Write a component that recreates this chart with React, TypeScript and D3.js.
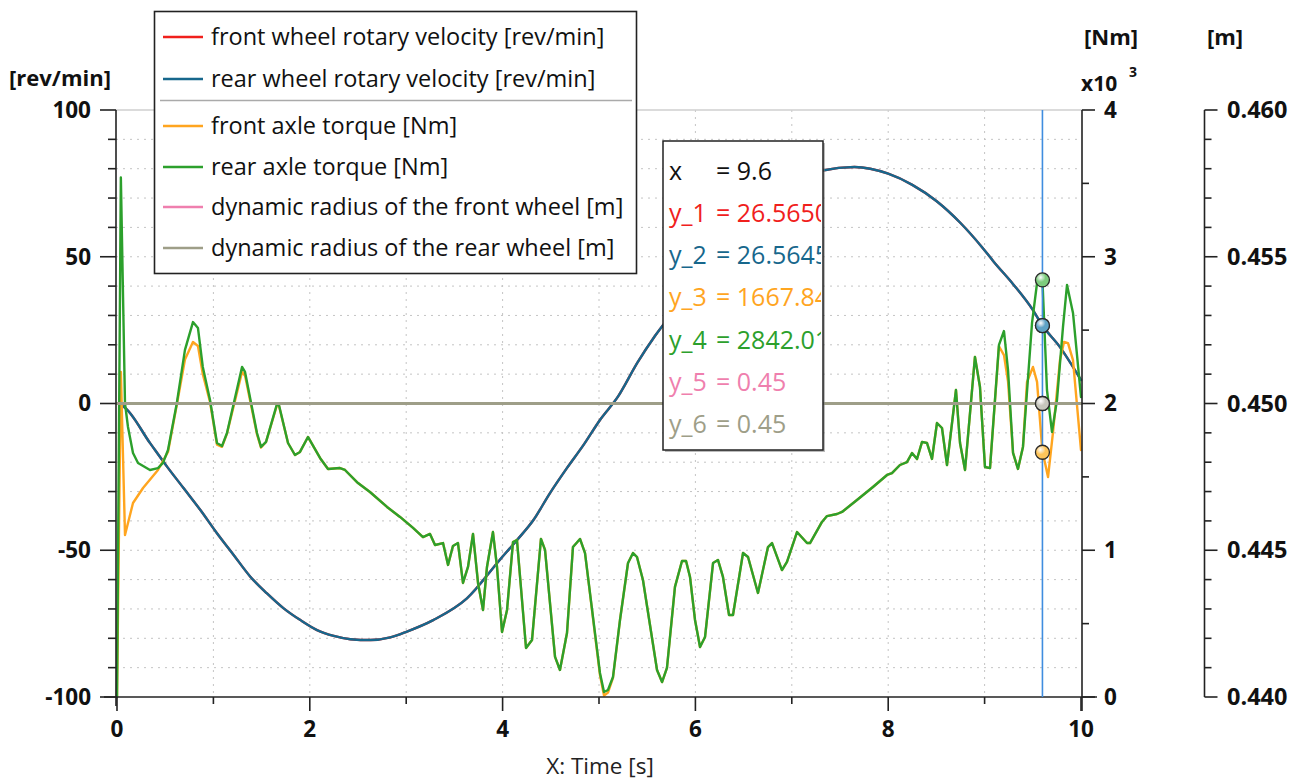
import React from 'react';
import * as d3 from 'd3';

const FONT = "'Open Sans', 'Noto Sans', sans-serif";

// ---------- data ----------
const xTickValues = [0, 1, 2, 3, 4, 5, 6, 7, 8, 9, 10];
const xLabelValues = [0, 2, 4, 6, 8, 10];
const leftMajor = [100, 50, 0, -50, -100];
const leftMinor = [90, 80, 70, 60, 40, 30, 20, 10, -10, -20, -30, -40, -60, -70, -80, -90];
const nmMajor = [0, 1000, 2000, 3000, 4000];
const nmMinor = [500, 1500, 2500, 3500];
const mMajor = [0.44, 0.445, 0.45, 0.455, 0.46];
const mMinor = [0.441, 0.442, 0.443, 0.444, 0.446, 0.447, 0.448, 0.449, 0.451, 0.452, 0.453, 0.454, 0.456, 0.457, 0.458, 0.459];

const frontVelocity: [number, number][] = [
  [0, 0], [0.07, -1.1], [0.345, -13.6], [0.519, -21.5], [0.692, -28.9], [0.865, -36.3], [1.037, -44.2],
  [1.21, -51.6], [1.383, -59], [1.556, -64.7], [1.729, -69.8], [1.902, -73.8], [2.075, -77.2], [2.248, -79.2],
  [2.42, -80.3], [2.63, -80.6], [2.835, -79.7], [3.008, -77.7], [3.28, -73.8], [3.63, -66.4], [3.97, -53.3],
  [4.15, -46.5], [4.32, -39.7], [4.49, -30.6], [4.665, -22.1], [4.84, -14.1], [5.01, -5.6], [5.2, 2.5],
  [5.4, 14], [5.58, 23], [5.8, 32.5], [6.0, 41.5], [6.25, 52.5], [6.5, 62], [6.75, 70], [7.0, 75.5],
  [7.32, 79.4], [7.65, 80.6], [8.0, 78.3], [8.25, 74.5], [8.5, 69], [8.75, 61.5], [8.98, 53], [9.09, 48.5],
  [9.3, 40.5], [9.5, 31.9], [9.6, 26.565], [9.78, 19.3], [10, 8]
];

const rearVelocity: [number, number][] = [
  [0, 0], [0.07, -1.1], [0.345, -13.6], [0.519, -21.5], [0.692, -28.9], [0.865, -36.3], [1.037, -44.2],
  [1.21, -51.6], [1.383, -59], [1.556, -64.7], [1.729, -69.8], [1.902, -73.8], [2.075, -77.2], [2.248, -79.2],
  [2.42, -80.3], [2.63, -80.6], [2.835, -79.7], [3.008, -77.7], [3.28, -73.8], [3.63, -66.4], [3.97, -53.3],
  [4.15, -46.5], [4.32, -39.7], [4.49, -30.6], [4.665, -22.1], [4.84, -14.1], [5.01, -5.6], [5.2, 2.5],
  [5.4, 14], [5.58, 23], [5.8, 32.5], [6.0, 41.5], [6.25, 52.5], [6.5, 62], [6.75, 70], [7.0, 75.5],
  [7.32, 79.4], [7.65, 80.6], [8.0, 78.3], [8.25, 74.5], [8.5, 69], [8.75, 61.5], [8.98, 53], [9.09, 48.5],
  [9.3, 40.5], [9.5, 31.9], [9.6, 26.5645], [9.78, 19.3], [10, 8]
];

const frontTorque: [number, number][] = [
  [0, 0], [0.04, 2215], [0.083, 1104], [0.166, 1322], [0.27, 1424], [0.425, 1547], [0.529, 1670], [0.62, 1990],
  [0.705, 2300], [0.788, 2419], [0.84, 2392], [0.89, 2200], [0.965, 2010], [1.037, 1720], [1.089, 1705],
  [1.141, 1795], [1.297, 2215], [1.328, 2190], [1.452, 1790], [1.494, 1700], [1.546, 1738], [1.66, 1990],
  [1.68, 1985], [1.774, 1731], [1.846, 1649], [1.898, 1670], [1.981, 1772], [2.106, 1629], [2.189, 1554],
  [2.313, 1560], [2.365, 1547], [2.5, 1458], [2.624, 1397], [2.801, 1295], [2.936, 1227], [3.071, 1152],
  [3.174, 1090], [3.247, 1111], [3.299, 1036], [3.382, 1049], [3.434, 900], [3.485, 1029], [3.537, 1049],
  [3.589, 777], [3.641, 886], [3.693, 1111], [3.745, 777], [3.797, 593], [3.838, 886], [3.9, 1124], [3.942, 886],
  [3.994, 443], [4.046, 593], [4.108, 1056], [4.149, 1070], [4.243, 334], [4.305, 388], [4.398, 1077],
  [4.44, 1002], [4.544, 273], [4.595, 184], [4.668, 436], [4.73, 1022], [4.803, 1077], [4.855, 981],
  [5.01, 150], [5.052, 10], [5.093, 30], [5.145, 130], [5.218, 525], [5.301, 913], [5.353, 981], [5.394, 954],
  [5.456, 797], [5.602, 184], [5.654, 102], [5.705, 198], [5.788, 750], [5.861, 927], [5.903, 927], [5.944, 818],
  [5.996, 525], [6.048, 341], [6.1, 409], [6.183, 913], [6.234, 934], [6.286, 818], [6.349, 559], [6.39, 559],
  [6.494, 981], [6.546, 954], [6.649, 709], [6.753, 1022], [6.795, 1049], [6.898, 865], [6.95, 920],
  [7.054, 1124], [7.158, 1049], [7.189, 1049], [7.313, 1193], [7.365, 1233], [7.469, 1247], [7.521, 1261],
  [7.676, 1342], [7.842, 1431], [7.988, 1513], [8.039, 1526], [8.122, 1581], [8.195, 1601], [8.247, 1663],
  [8.299, 1622], [8.351, 1738], [8.402, 1731], [8.454, 1622], [8.506, 1867], [8.558, 1833], [8.61, 1581],
  [8.703, 2092], [8.745, 1731], [8.797, 1547], [8.9, 2317], [8.952, 2112], [9.004, 1567], [9.056, 1560],
  [9.149, 2390], [9.201, 2330], [9.243, 2150], [9.295, 1663], [9.346, 1554], [9.398, 1704], [9.44, 2147],
  [9.502, 2249], [9.544, 2147], [9.6, 1667.84], [9.627, 1595], [9.658, 1499], [9.71, 1806], [9.782, 2296],
  [9.824, 2419], [9.865, 2412], [9.917, 2296], [10, 1683]
];

const rearTorque: [number, number][] = [
  [0, 0], [0.04, 3540], [0.083, 2000], [0.114, 1840], [0.166, 1663], [0.218, 1595], [0.342, 1547], [0.425, 1560],
  [0.477, 1595], [0.529, 1683], [0.62, 2000], [0.705, 2365], [0.788, 2555], [0.84, 2514], [0.89, 2249],
  [0.965, 2024], [1.037, 1731], [1.089, 1710], [1.141, 1799], [1.297, 2249], [1.328, 2215], [1.452, 1799],
  [1.494, 1704], [1.546, 1738], [1.66, 1997], [1.68, 1990], [1.774, 1731], [1.846, 1649], [1.898, 1670],
  [1.981, 1772], [2.106, 1629], [2.189, 1554], [2.313, 1560], [2.365, 1547], [2.5, 1458], [2.624, 1397],
  [2.801, 1295], [2.936, 1227], [3.071, 1152], [3.174, 1090], [3.247, 1111], [3.299, 1036], [3.382, 1049],
  [3.434, 900], [3.485, 1029], [3.537, 1049], [3.589, 777], [3.641, 886], [3.693, 1111], [3.745, 777],
  [3.797, 593], [3.838, 886], [3.9, 1124], [3.942, 886], [3.994, 443], [4.046, 593], [4.108, 1056],
  [4.149, 1070], [4.243, 334], [4.305, 388], [4.398, 1077], [4.44, 1002], [4.544, 273], [4.595, 184],
  [4.668, 436], [4.73, 1022], [4.803, 1077], [4.855, 981], [5.01, 164], [5.052, 34], [5.093, 48], [5.145, 136],
  [5.218, 525], [5.301, 913], [5.353, 981], [5.394, 954], [5.456, 797], [5.602, 184], [5.654, 102], [5.705, 198],
  [5.788, 750], [5.861, 927], [5.903, 927], [5.944, 818], [5.996, 525], [6.048, 341], [6.1, 409], [6.183, 913],
  [6.234, 934], [6.286, 818], [6.349, 559], [6.39, 559], [6.494, 981], [6.546, 954], [6.649, 709], [6.753, 1022],
  [6.795, 1049], [6.898, 865], [6.95, 920], [7.054, 1124], [7.158, 1049], [7.189, 1049], [7.313, 1193],
  [7.365, 1233], [7.469, 1247], [7.521, 1261], [7.676, 1342], [7.842, 1431], [7.988, 1513], [8.039, 1526],
  [8.122, 1581], [8.195, 1601], [8.247, 1663], [8.299, 1622], [8.351, 1738], [8.402, 1731], [8.454, 1622],
  [8.506, 1867], [8.558, 1833], [8.61, 1581], [8.703, 2092], [8.745, 1731], [8.797, 1547], [8.9, 2317],
  [8.952, 2112], [9.004, 1567], [9.056, 1560], [9.149, 2399], [9.201, 2494], [9.243, 2228], [9.295, 1663],
  [9.346, 1554], [9.398, 1704], [9.492, 2549], [9.544, 2821], [9.6, 2842.01], [9.647, 2092], [9.699, 1806],
  [9.751, 2024], [9.813, 2521], [9.855, 2808], [9.917, 2617], [10, 2044]
];

const frontRadius: [number, number][] = [[0, 0.45], [10, 0.45]];
const rearRadius: [number, number][] = [[0, 0.45], [10, 0.45]];

const cursorX = 9.6;
const seriesNames = [
  'front wheel rotary velocity [rev/min]',
  'rear wheel rotary velocity [rev/min]',
  'front axle torque [Nm]',
  'rear axle torque [Nm]',
  'dynamic radius of the front wheel [m]',
  'dynamic radius of the rear wheel [m]'
];
const seriesColors = ['#f0201c', '#17678c', '#ffa51f', '#2ca02c', '#ef7fae', '#9e9e88'];
const markerColors = ['#f47a70', '#5fa3c6', '#ffc55a', '#7dcc7d', '#f5aacb', '#c6c6bc'];
const tooltipLabels = ['y_1', 'y_2', 'y_3', 'y_4', 'y_5', 'y_6'];
const tooltipValues = ['26.56501', '26.56452', '1667.8413', '2842.0127', '0.45', '0.45'];

// ---------- component ----------
export default function App() {
  const W = 1307, H = 783;
  const x = d3.scaleLinear().domain([0, 10]).range([117, 1081]);
  const yL = d3.scaleLinear().domain([-100, 100]).range([697, 110]);
  const yN = d3.scaleLinear().domain([0, 4000]).range([697, 110]);
  const yM = d3.scaleLinear().domain([0.44, 0.46]).range([697, 110]);

  const series = [
    { data: frontVelocity, y: yL, w: 2.4, smooth: true },
    { data: rearVelocity, y: yL, w: 2.4, smooth: true },
    { data: frontTorque, y: yN, w: 2.4, smooth: false },
    { data: rearTorque, y: yN, w: 2.4, smooth: false },
    { data: frontRadius, y: yM, w: 3, smooth: false },
    { data: rearRadius, y: yM, w: 3, smooth: false }
  ];

  const lineOf = (s: any) =>
    d3.line<[number, number]>()
      .x(d => x(d[0]))
      .y(d => s.y(d[1]))
      .curve(s.smooth ? d3.curveMonotoneX : d3.curveLinear)(s.data) || '';

  const valueAt = (data: [number, number][], t: number) => {
    const f = data.find(d => Math.abs(d[0] - t) < 1e-9);
    return f ? f[1] : data[0][1];
  };

  const axL = 116, axN = 1082, axM = 1204.5;
  const yTop = 110, yBot = 697;
  const gridColor = '#c4c4c4';

  const markerOrder = [0, 1, 2, 3, 4, 5];
  const legendRows = [37, 79, 126, 167, 207, 248];

  return (
    <svg width={W} height={H} style={{ position: 'absolute', left: 0, top: 0, background: '#fff' }}
      fontFamily={FONT}>
      <defs>
        <clipPath id="plotClip">
          <rect x={113} y={106} width={972} height={594} />
        </clipPath>
        <clipPath id="tipClip">
          <rect x={664} y={142} width={157} height={307} />
        </clipPath>
        {markerColors.map((c, i) => (
          <radialGradient key={i} id={`mg${i}`} cx="38%" cy="32%" r="75%">
            <stop offset="0%" stopColor="#ffffff" stopOpacity={0.9} />
            <stop offset="45%" stopColor={c} />
            <stop offset="100%" stopColor={c} />
          </radialGradient>
        ))}
      </defs>

      {/* grid */}
      {xTickValues.filter(v => v > 0 && v < 10).map(v => (
        <line key={'gx' + v} x1={x(v)} x2={x(v)} y1={yTop} y2={yBot} stroke={gridColor}
          strokeWidth={1} strokeDasharray="2,5" />
      ))}
      {leftMinor.concat([50, -50]).map(v => (
        <line key={'gy' + v} x1={axL} x2={axN} y1={yL(v)} y2={yL(v)} stroke={gridColor}
          strokeWidth={1} strokeDasharray="2,5" />
      ))}
      <line x1={axL} x2={axN} y1={yL(100)} y2={yL(100)} stroke="#cfcfcf" strokeWidth={1.5} />

      {/* series */}
      <g clipPath="url(#plotClip)" fill="none" strokeLinejoin="round" strokeLinecap="round">
        {series.map((s, i) => (
          <path key={i} d={lineOf(s)} stroke={seriesColors[i]} strokeWidth={s.w} />
        ))}
      </g>

      {/* axes */}
      <g stroke="#222" strokeWidth={1.6} fill="none">
        <line x1={axL} x2={axL} y1={yTop} y2={706} />
        {leftMajor.map(v => <line key={'lM' + v} x1={100} x2={axL} y1={yL(v)} y2={yL(v)} />)}
        {leftMinor.map(v => <line key={'lm' + v} x1={108} x2={axL} y1={yL(v)} y2={yL(v)} />)}
        <line x1={104} x2={1097} y1={yBot} y2={yBot} />
        {xTickValues.map(v => (
          <line key={'xt' + v} x1={x(v)} x2={x(v)} y1={yBot} y2={yBot + (v % 2 === 0 ? 14 : 7)} />
        ))}
        <line x1={axN} x2={axN} y1={yTop} y2={711} />
        {nmMajor.map(v => <line key={'nM' + v} x1={axN} x2={axN + 13} y1={yN(v)} y2={yN(v)} />)}
        {nmMinor.map(v => <line key={'nm' + v} x1={axN} x2={axN + 7} y1={yN(v)} y2={yN(v)} />)}
        <line x1={axM} x2={axM} y1={yTop} y2={yBot} />
        {mMajor.map(v => <line key={'mM' + v} x1={axM} x2={axM + 13} y1={yM(v)} y2={yM(v)} />)}
        {mMinor.map(v => <line key={'mm' + v} x1={axM} x2={axM + 7} y1={yM(v)} y2={yM(v)} />)}
      </g>

      {/* tick labels */}
      <g fontWeight={700} fontSize={22.5} fill="#111">
        {leftMajor.map(v => (
          <text key={'ll' + v} x={91} y={yL(v)} dy="0.35em" textAnchor="end">{v}</text>
        ))}
        {xLabelValues.map(v => (
          <text key={'xl' + v} x={x(v)} y={729} dy="0.35em" textAnchor="middle">{v}</text>
        ))}
        {nmMajor.map(v => (
          <text key={'nl' + v} x={1104} y={yN(v)} dy="0.35em">{v / 1000}</text>
        ))}
        {mMajor.map(v => (
          <text key={'ml' + v} x={1227} y={yM(v)} dy="0.35em" fontSize={23.5}>{d3.format('.3f')(v)}</text>
        ))}
      </g>
      <g fontWeight={700} fontSize={22} fill="#111">
        <text x={60} y={78} dy="0.35em" textAnchor="middle">[rev/min]</text>
        <text x={1111} y={37} dy="0.35em" textAnchor="middle">[Nm]</text>
        <text x={1225} y={37} dy="0.35em" textAnchor="middle">[m]</text>
        <text x={1081} y={84} dy="0.35em" fontSize={21}>x10</text>
        <text x={1129} y={72} dy="0.35em" fontSize={14}>3</text>
      </g>
      <text x={600} y={766} dy="0.35em" textAnchor="middle" fontSize={22.5} fill="#222">X: Time [s]</text>

      {/* tooltip */}
      <rect x={665} y={143} width={160} height={309} fill="#777" opacity={0.5} />
      <rect x={663} y={141} width={160} height={309} fill="#fff" stroke="#222" strokeWidth={1.5} />
      <g clipPath="url(#tipClip)" fontSize={25}>
        <text x={669} y={171} dy="0.35em" fill="#111">x</text>
        <text x={716} y={171} dy="0.35em" fill="#111">= {cursorX}</text>
        {tooltipLabels.map((l, i) => (
          <g key={l} fill={seriesColors[i]}>
            <text x={669} y={213 + i * 42.3} dy="0.35em">{l}</text>
            <text x={716} y={213 + i * 42.3} dy="0.35em">= {tooltipValues[i]}</text>
          </g>
        ))}
      </g>

      {/* cursor */}
      <line x1={x(cursorX)} x2={x(cursorX)} y1={yTop} y2={yBot} stroke="#3f8ddf" strokeWidth={1.6} />
      {markerOrder.map(i => (
        <circle key={'mk' + i} cx={x(cursorX)} cy={series[i].y(valueAt(series[i].data, cursorX))} r={7}
          fill={`url(#mg${i})`} stroke="#2a2a2a" strokeWidth={1.3} />
      ))}

      {/* legend */}
      <rect x={154.5} y={11.5} width={482} height={262} fill="#fff" stroke="#222" strokeWidth={1.6} />
      <line x1={160} x2={632} y1={100.5} y2={100.5} stroke="#aaa" strokeWidth={1.3} />
      {seriesNames.map((n, i) => (
        <g key={n}>
          <line x1={163} x2={203} y1={legendRows[i]} y2={legendRows[i]} stroke={seriesColors[i]} strokeWidth={2.6} />
          <text x={211} y={legendRows[i]} dy="0.35em" fontSize={23.5} fill="#111">{n}</text>
        </g>
      ))}
    </svg>
  );
}
